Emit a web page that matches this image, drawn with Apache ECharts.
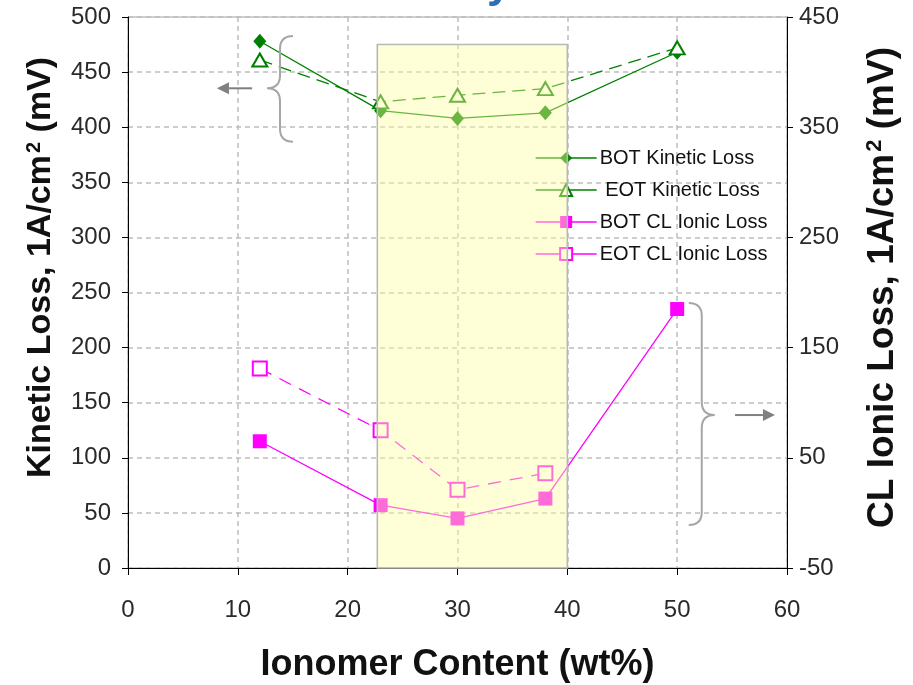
<!DOCTYPE html>
<html>
<head>
<meta charset="utf-8">
<script src="https://cdn.jsdelivr.net/npm/echarts@6/dist/echarts.min.js"></script>
<style>
  html, body { margin: 0; padding: 0; background: #fff; width: 913px; height: 685px; overflow: hidden; }
  #chart { width: 913px; height: 685px; overflow: hidden; }
</style>
</head>
<body>
<div id="chart"></div>
<script>
// Ionomer content (wt%) for each electrode
const ionomer = [12, 23, 30, 38, 50];
const ionomerEot = [12, 23, 30, 38];

// Kinetic loss at 1 A/cm2 (mV), left axis
const botKinetic = [478, 415, 408, 413, 468];
const eotKinetic = [461, 423, 429, 435, 472];

// Catalyst-layer ionic loss at 1 A/cm2 (mV), right axis
const botIonic = [65, 7, -5, 13, 185];
const eotIonic = [131, 75, 21, 36];

// Axis ranges and tick steps
const xRange = [0, 60, 10];
const leftRange = [0, 500, 50];
const rightRange = [-50, 450, 100];

// Highlighted ionomer window: [from wt%, to wt%, top on left axis]
const windowBand = [[22.7, 40, 475]];

// Curly braces: [x of spine, top, tip, bottom (left-axis units), pointing side]
const braces = [
  [13.84, 482.8, 435.3, 386.8, -1],
  [52.24, 240.5, 138.8, 39.0, 1]
];
// Arrows: [x start, x end, y (left-axis units)]
const arrows = [
  [11.3, 8.1, 435.3],
  [55.27, 58.9, 138.8]
];

const FONT = 'Liberation Sans, Arial, sans-serif';
const GREEN = '#008000';
const MAGENTA = '#FF00FF';

function pairs(xs, ys) { return xs.map((x, i) => [x, ys[i]]); }

const chart = echarts.init(document.getElementById('chart'), null, { renderer: 'canvas', width: 913, height: 685 });

function supStyle(size) {
  return {
    fontFamily: FONT, fontSize: size, fontWeight: 'bold', color: '#111',
    verticalAlign: 'top', lineHeight: size, padding: [0, 0, 16, 2]
  };
}

const option = {
  backgroundColor: '#ffffff',
  animation: false,
  title: {
    text: 'y',
    left: 482,
    top: -42,
    textStyle: { color: '#2F6EB5', fontSize: 44, fontWeight: 'bold', fontFamily: FONT }
  },
  grid: {
    left: 128, right: 126, top: 17, bottom: 117,
    outerBoundsMode: 'none',
    containLabel: false,
    show: true, borderColor: '#a0a0a0', borderWidth: 1, backgroundColor: 'transparent'
  },
  legend: {
    orient: 'vertical',
    left: 530,
    top: 143,
    itemWidth: 61,
    itemHeight: 15,
    itemGap: 12,
    z: 4,
    data: ['BOT Kinetic Loss', 'EOT Kinetic Loss', 'BOT CL Ionic Loss', 'EOT CL Ionic Loss'],
    formatter: n => n === 'EOT Kinetic Loss' ? ' ' + n : n,
    lineStyle: { type: 'solid', width: 1.3 },
    textStyle: { fontFamily: FONT, fontSize: 20, color: '#111', padding: [0, 0, 0, -2] }
  },
  xAxis: {
    type: 'value',
    min: xRange[0], max: xRange[1], interval: xRange[2],
    name: 'Ionomer Content (wt%)',
    nameLocation: 'middle',
    nameGap: 79,
    nameTextStyle: { fontFamily: FONT, fontSize: 36, fontWeight: 'bold', color: '#111' },
    axisLine: { onZero: false, lineStyle: { color: '#000', width: 1 } },
    axisTick: { show: true, length: 7, lineStyle: { color: '#000' } },
    axisLabel: { margin: 30, fontFamily: FONT, fontSize: 24, color: '#2a2a2a' },
    splitLine: {
      show: true,
      lineStyle: { color: '#bdbdbd', type: [5, 4], width: 1.5 }
    }
  },
  yAxis: [
    {
      type: 'value',
      position: 'left',
      min: leftRange[0], max: leftRange[1], interval: leftRange[2],
      name: 'Kinetic Loss, 1A/cm{sup|2} (mV)',
      nameLocation: 'middle',
      nameGap: 70,
      nameTextStyle: {
        fontFamily: FONT, fontSize: 34, fontWeight: 'bold', color: '#111',
        padding: [0, 0, 0, 50],
        rich: { sup: supStyle(20) }
      },
      axisLine: { show: true, lineStyle: { color: '#000', width: 1 } },
      axisTick: { show: true, length: 6, lineStyle: { color: '#000' } },
      axisLabel: { margin: 17, fontFamily: FONT, fontSize: 24, color: '#2a2a2a' },
      splitLine: {
        show: true,
        lineStyle: { color: '#bdbdbd', type: [5, 4], width: 1.5 }
      }
    },
    {
      type: 'value',
      position: 'right',
      min: rightRange[0], max: rightRange[1], interval: rightRange[2],
      name: 'CL Ionic Loss, 1A/cm{sup|2} (mV)',
      nameLocation: 'middle',
      nameGap: 77,
      nameRotate: 90,
      nameTextStyle: {
        fontFamily: FONT, fontSize: 37, fontWeight: 'bold', color: '#111',
        padding: [0, 0, 0, 10],
        rich: { sup: supStyle(22) }
      },
      axisLine: { show: true, lineStyle: { color: '#000', width: 1 } },
      axisTick: { show: true, length: 6, lineStyle: { color: '#000' } },
      axisLabel: { margin: 12, fontFamily: FONT, fontSize: 24, color: '#2a2a2a' },
      splitLine: { show: false }
    }
  ],
  series: [
    {
      name: 'BOT Kinetic Loss',
      type: 'line',
      yAxisIndex: 0,
      data: pairs(ionomer, botKinetic),
      symbol: 'diamond',
      symbolSize: [13, 15],
      itemStyle: { color: GREEN },
      lineStyle: { color: GREEN, width: 1.3 },
      z: 3
    },
    {
      name: 'EOT Kinetic Loss',
      type: 'line',
      yAxisIndex: 0,
      data: pairs(ionomer, eotKinetic),
      symbol: 'emptyTriangle',
      symbolSize: [15, 13],
      itemStyle: { color: GREEN, borderWidth: 1.3 },
      lineStyle: { color: GREEN, width: 1.3, type: [13, 7] },
      z: 3
    },
    {
      name: 'BOT CL Ionic Loss',
      type: 'line',
      yAxisIndex: 1,
      data: pairs(ionomer, botIonic),
      symbol: 'rect',
      symbolSize: 14,
      itemStyle: { color: MAGENTA },
      lineStyle: { color: MAGENTA, width: 1.3 },
      z: 3
    },
    {
      name: 'EOT CL Ionic Loss',
      type: 'line',
      yAxisIndex: 1,
      data: pairs(ionomerEot, eotIonic),
      symbol: 'emptyRect',
      symbolSize: 14,
      itemStyle: { color: MAGENTA, borderWidth: 1.3 },
      lineStyle: { color: MAGENTA, width: 1.3, type: [13, 9] },
      z: 3
    },
    {
      // translucent yellow window laid over the curves
      type: 'custom',
      yAxisIndex: 0,
      silent: true,
      z: 10,
      data: windowBand,
      encode: { x: [0, 1], y: 2 },
      renderItem: function (params, api) {
        const p1 = api.coord([api.value(0), api.value(2)]);
        const p2 = api.coord([api.value(1), leftRange[0]]);
        return {
          type: 'rect',
          shape: { x: p1[0], y: p1[1], width: p2[0] - p1[0], height: p2[1] - p1[1] },
          style: { fill: 'rgba(255,255,160,0.42)', stroke: '#b8b8b8', lineWidth: 1.6 }
        };
      }
    },
    {
      // curly braces grouping each pair of curves
      type: 'custom',
      yAxisIndex: 0,
      silent: true,
      z: 6,
      data: braces,
      encode: { x: 0, y: [1, 2, 3] },
      renderItem: function (params, api) {
        const x = api.coord([api.value(0), api.value(1)])[0];
        const yt = api.coord([api.value(0), api.value(1)])[1];
        const ym = api.coord([api.value(0), api.value(2)])[1];
        const yb = api.coord([api.value(0), api.value(3)])[1];
        const d = api.value(4);
        const r = 13;
        const path =
          'M' + (x - d * r) + ' ' + yt +
          ' Q' + x + ' ' + yt + ' ' + x + ' ' + (yt + r) +
          ' L' + x + ' ' + (ym - r) +
          ' Q' + x + ' ' + ym + ' ' + (x + d * r) + ' ' + ym +
          ' Q' + x + ' ' + ym + ' ' + x + ' ' + (ym + r) +
          ' L' + x + ' ' + (yb - r) +
          ' Q' + x + ' ' + yb + ' ' + (x - d * r) + ' ' + yb;
        return {
          type: 'path',
          shape: { pathData: path },
          style: { fill: null, stroke: '#a6a6a6', lineWidth: 2 }
        };
      }
    },
    {
      // arrows pointing at the axis each pair belongs to
      type: 'custom',
      yAxisIndex: 0,
      silent: true,
      z: 6,
      data: arrows,
      encode: { x: [0, 1], y: 2 },
      renderItem: function (params, api) {
        const a = api.coord([api.value(0), api.value(2)]);
        const b = api.coord([api.value(1), api.value(2)]);
        const dir = b[0] > a[0] ? 1 : -1;
        const head = 12, half = 6;
        return {
          type: 'group',
          children: [
            {
              type: 'line',
              shape: { x1: a[0], y1: a[1], x2: b[0] - dir * head, y2: b[1] },
              style: { stroke: '#808080', lineWidth: 2 }
            },
            {
              type: 'polygon',
              shape: { points: [[b[0], b[1]], [b[0] - dir * head, b[1] - half], [b[0] - dir * head, b[1] + half]] },
              style: { fill: '#808080' }
            }
          ]
        };
      }
    }
  ]
};

chart.setOption(option);
</script>
</body>
</html>
